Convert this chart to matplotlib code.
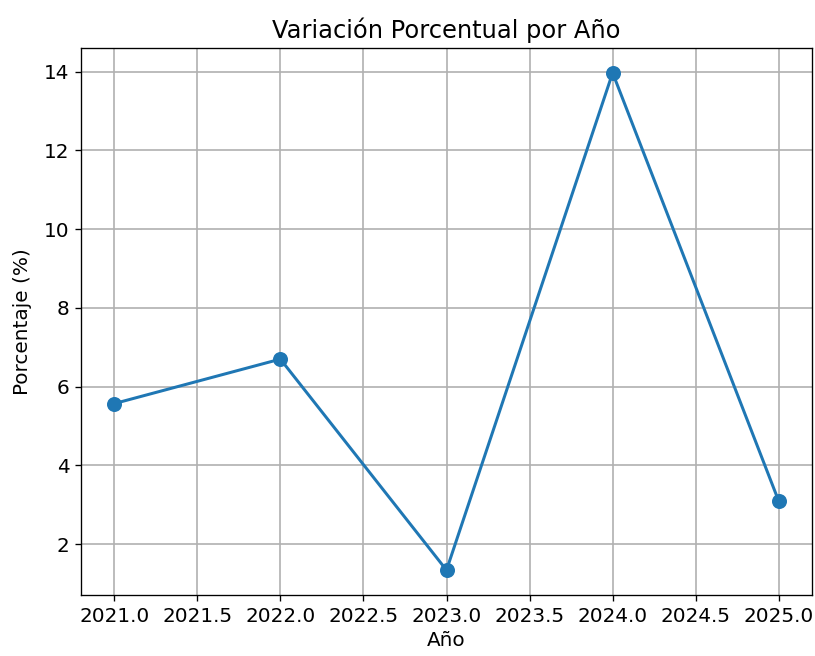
import matplotlib
matplotlib.use("Agg")
import matplotlib.pyplot as plt

# Datos
anios = [2021, 2022, 2023, 2024, 2025]
variacion = [5.57, 6.70, 1.34, 13.97, 3.09]

fig = plt.figure(figsize=(815 / 120, 656 / 120), dpi=120)
ax = fig.add_axes([81 / 815, 1 - 595 / 656, (812 - 81) / 815, (595 - 48) / 656])

ax.plot(anios, variacion, marker='o', markersize=8, color='#1f77b4', linewidth=1.8)
ax.set_title('Variación Porcentual por Año', fontsize=14.5, pad=6)
ax.set_xlabel('Año', fontsize=12, labelpad=3)
ax.set_ylabel('Porcentaje (%)', fontsize=12, labelpad=7)
ax.tick_params(labelsize=12)
ax.grid(True, linewidth=1.0)

fig.savefig('out.png', dpi=120)
